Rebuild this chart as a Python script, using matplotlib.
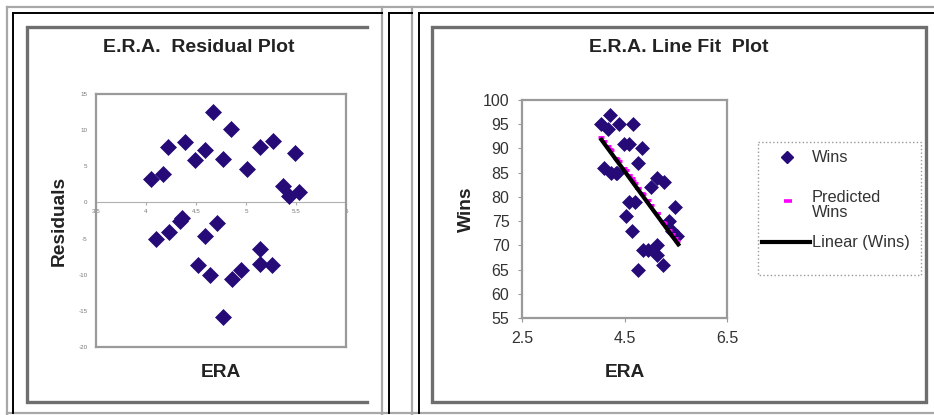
import matplotlib.pyplot as plt
from matplotlib.patches import Rectangle

plt.rcParams['font.family'] = ['Liberation Sans', 'DejaVu Sans']
plt.rcParams['axes.unicode_minus'] = False

# ERA of each team
era = [4.05, 4.17, 4.22, 4.39, 4.49, 4.59, 4.67, 4.77, 4.85, 5.01, 5.14, 5.27, 5.49, 5.37, 5.43,
       5.53, 4.10, 4.23, 4.34, 4.36, 4.59, 4.71, 4.52, 4.64, 4.77, 4.86, 4.95, 5.14, 5.14, 5.26]
residuals = [3.2, 3.9, 7.7, 8.3, 5.9, 7.3, 12.5, 6.0, 10.2, 4.6, 7.7, 8.5, 6.9, 2.3, 0.9,
             1.4, -5.1, -4.1, -2.5, -2.2, -4.6, -2.8, -8.7, -10.1, -15.9, -10.6, -9.4, -6.4, -8.5, -8.6]
wins = [95, 94, 97, 95, 91, 91, 95, 87, 90, 82, 84, 83, 78, 75, 73,
        72, 86, 85, 85, 85, 79, 79, 76, 73, 65, 69, 69, 70, 68, 66]
predicted = [92.3, 90.5, 89.8, 87.4, 85.9, 84.5, 83.3, 81.9, 80.7, 78.4, 76.6, 74.7, 71.5, 73.2, 72.4,
             70.9, 91.5, 89.7, 88.1, 87.8, 84.5, 82.8, 85.5, 83.8, 81.9, 80.6, 79.3, 76.6, 76.6, 74.9]
trend_era = [4.05, 5.55]
trend_wins = [91.8, 70.2]

res_yticks = [15, 10, 5, 0, -5, -10, -15, -20]
res_xticks = [3.5, 4, 4.5, 5, 5.5, 6]
res_xlabels = ['3.5', '4', '4.5', '5', '5.5', '6']
fit_yticks = [55, 60, 65, 70, 75, 80, 85, 90, 95, 100]
fit_xticks = [2.5, 4.5, 6.5]
legend_labels = ['Wins', 'Predicted\nWins', 'Linear (Wins)']

W, H = 934, 415
navy = '#260a78'
pink = '#ff00ff'
txt = '#222222'
fig = plt.figure(figsize=(W / 100, H / 100), dpi=100)


def px_rect(l, t, r, b):
    return [l / W, 1 - b / H, (r - l) / W, (b - t) / H]


# sheet background with frames
bg = fig.add_axes([0, 0, 1, 1])
bg.set_xlim(0, W)
bg.set_ylim(H, 0)
bg.axis('off')
light = '#a8a8a8'
bg.plot([7, W], [7, 7], color=light, lw=1.6)
bg.plot([7, W], [413, 413], color=light, lw=1.6)
for x in [7, 382, 412]:
    bg.plot([x, x], [7, H], color=light, lw=1.6)
bg.plot([13, 382], [13, 13], color='black', lw=1.4)
bg.plot([389, 412], [13, 13], color='black', lw=1.4)
bg.plot([419, W], [13, 13], color='black', lw=1.4)
for x in [13, 389, 419]:
    bg.plot([x, x], [13, 413], color='black', lw=1.4)
box = '#6e6e6e'
bg.plot([367, 27, 27, 367], [27, 27, 402, 402], color=box, lw=2.4, solid_joinstyle='miter')
bg.add_patch(Rectangle((432, 27), 494, 375, fill=False, edgecolor=box, lw=2.4))

# residual plot
ax1 = fig.add_axes(px_rect(96, 94, 346, 347))
ax1.scatter(era, residuals, marker='D', s=66, color=navy, edgecolor=navy, lw=0.5, zorder=3)
ax1.set_xlim(3.5, 6)
ax1.set_ylim(-20, 15)
ax1.set_xticks([])
ax1.set_yticks(res_yticks)
ax1.set_yticklabels([str(v) for v in res_yticks])
ax1.tick_params(axis='y', labelsize=4.5, labelcolor='#777777', length=0, pad=6)
for sp in ax1.spines.values():
    sp.set_color('#9a9a9a')
    sp.set_linewidth(1.6)
sec = ax1.secondary_xaxis(20 / 35)
sec.set_xticks(res_xticks)
sec.set_xticklabels(res_xlabels)
sec.xaxis.set_ticks_position('bottom')
sec.xaxis.set_label_position('bottom')
sec.tick_params(labelsize=4.5, labelcolor='#777777', length=2, color='#aaaaaa', pad=3,
                labelbottom=True, labeltop=False)
for sp in sec.spines.values():
    sp.set_color('#b0b0b0')
    sp.set_linewidth(0.8)
ax1.set_xlabel('ERA', fontsize=13.8, fontweight='bold', labelpad=12, color=txt)
ax1.set_ylabel('Residuals', fontsize=13.8, fontweight='bold', labelpad=8, color=txt)
fig.text(199 / W, 1 - 47 / H, 'E.R.A.  Residual Plot', ha='center', va='center',
         fontsize=14, fontweight='bold', color=txt)

# line fit plot
ax2 = fig.add_axes(px_rect(522, 100, 727, 318))
ax2.scatter(era, wins, marker='D', s=50, color=navy, edgecolor=navy, lw=0.5, zorder=2)
ax2.scatter(era, predicted, marker='_', s=18, color=pink, lw=2.2, zorder=3)
ax2.plot(trend_era, trend_wins, color='black', lw=3.0, zorder=4)
ax2.set_xlim(2.5, 6.5)
ax2.set_ylim(55, 100)
ax2.set_xticks(fit_xticks)
ax2.set_xticklabels([str(v) for v in fit_xticks])
ax2.set_yticks(fit_yticks)
ax2.tick_params(labelsize=11.5, labelcolor='#333333', length=3, color='#999999', pad=6)
for sp in ax2.spines.values():
    sp.set_color('#9a9a9a')
    sp.set_linewidth(1.6)
ax2.set_xlabel('ERA', fontsize=13.8, fontweight='bold', labelpad=13, color=txt)
ax2.set_ylabel('Wins', fontsize=13.8, fontweight='bold', labelpad=6, color=txt)
fig.text(679 / W, 1 - 47 / H, 'E.R.A. Line Fit  Plot', ha='center', va='center',
         fontsize=14, fontweight='bold', color=txt)

# legend box, drawn like the spreadsheet one
bg.add_patch(Rectangle((758, 142), 163, 133, facecolor='white', edgecolor='#999999',
                       lw=1.0, linestyle=':'))
bg.plot([787], [157], marker='D', ms=6.5, color=navy, mec=navy)
bg.plot([788], [201], marker='_', ms=6, mew=2.6, color=pink)
bg.plot([762, 810], [242, 242], color='black', lw=3.0)
for y, lab in zip([157, 205, 242], legend_labels):
    bg.text(812, y, lab, ha='left', va='center', fontsize=11.8, color='#333333',
            linespacing=1.05)

fig.savefig('out.png', dpi=100)
